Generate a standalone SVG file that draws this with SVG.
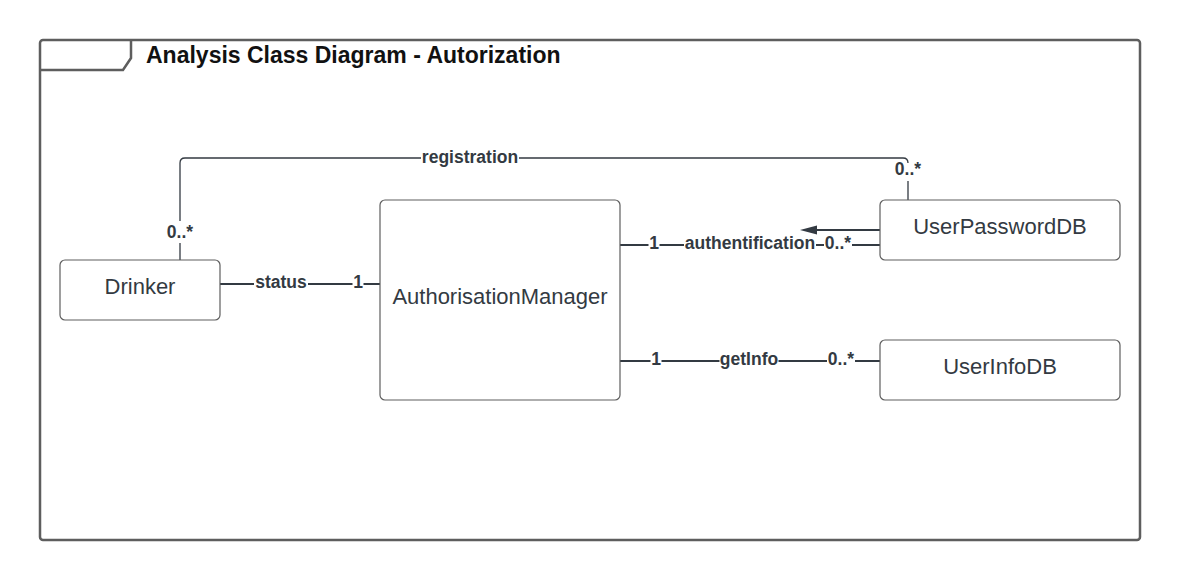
<svg xmlns="http://www.w3.org/2000/svg" width="1180" height="580" viewBox="0 0 1180 580">
<style>
.frame{fill:none;stroke:#5e5e5e;stroke-width:2.5}
.node{fill:#ffffff;stroke:#5e5e5e;stroke-width:1.2}
.ntext{font-family:"Liberation Sans",Arial,sans-serif;font-size:22px;fill:#333a42;text-anchor:middle}
.title{font-family:"Liberation Sans",Arial,sans-serif;font-size:23px;font-weight:bold;fill:#111111}
.conn{fill:none;stroke:#333a42;stroke-width:2}
.thin{fill:none;stroke:#333a42;stroke-width:1.3}
.bg{fill:#ffffff}
.lbl{font-family:"Liberation Sans",Arial,sans-serif;font-size:17.5px;font-weight:bold;fill:#333a42;text-anchor:middle}
</style>
<rect width="1180" height="580" fill="#ffffff"/>
<g id="frame">
<rect class="frame" x="40" y="40" width="1100" height="500" rx="3"/>
<path class="frame" d="M40,70 L123,70 L131,58 L131,40"/>
<text class="title" x="146" y="63">Analysis Class Diagram - Autorization</text>
</g>
<g id="connectors">
<path class="thin" d="M180,260 L180,163 Q180,158 185,158 L903,158 Q908,158 908,163 L908,200"/>
<line class="conn" x1="220" y1="284" x2="380" y2="284"/>
<line class="conn" x1="620" y1="245" x2="880" y2="245"/>
<line class="conn" x1="880" y1="230" x2="816" y2="230"/>
<path d="M817,225.5 L800,230 L817,234.5 Z" fill="#333a42"/>
<line class="conn" x1="620" y1="361" x2="880" y2="361"/>
<rect class="bg" x="421" y="150" width="98" height="14"/>
<rect class="bg" x="166" y="221" width="28" height="22"/>
<rect class="bg" x="894" y="163" width="28" height="18"/>
<rect class="bg" x="254" y="277" width="54" height="14"/>
<rect class="bg" x="352.5" y="277" width="11" height="14"/>
<rect class="bg" x="648.5" y="238" width="11" height="14"/>
<rect class="bg" x="684" y="238" width="132" height="14"/>
<rect class="bg" x="824" y="238" width="28" height="14"/>
<rect class="bg" x="650.5" y="354" width="11" height="14"/>
<rect class="bg" x="719.5" y="354" width="59" height="14"/>
<rect class="bg" x="827" y="354" width="28" height="14"/>
<text class="lbl" x="470" y="162.5">registration</text>
<text class="lbl" x="180" y="238">0..*</text>
<text class="lbl" x="908" y="175">0..*</text>
<text class="lbl" x="281" y="287.5">status</text>
<text class="lbl" x="358" y="287.5">1</text>
<text class="lbl" x="654" y="248.5">1</text>
<text class="lbl" x="750" y="248.5">authentification</text>
<text class="lbl" x="838" y="248.5">0..*</text>
<text class="lbl" x="656" y="364.5">1</text>
<text class="lbl" x="749" y="364.5">getInfo</text>
<text class="lbl" x="841" y="364.5">0..*</text>
</g>
<g id="drinker">
<rect class="node" x="60" y="260" width="160" height="60" rx="5"/>
<text class="ntext" x="140" y="294.3">Drinker</text>
</g>
<g id="authorisationManager">
<rect class="node" x="380" y="200" width="240" height="200" rx="5"/>
<text class="ntext" x="500" y="304.3">AuthorisationManager</text>
</g>
<g id="userPasswordDB">
<rect class="node" x="880" y="200" width="240" height="60" rx="5"/>
<text class="ntext" x="1000" y="233.5">UserPasswordDB</text>
</g>
<g id="userInfoDB">
<rect class="node" x="880" y="340" width="240" height="60" rx="5"/>
<text class="ntext" x="1000" y="374.3">UserInfoDB</text>
</g>
</svg>
